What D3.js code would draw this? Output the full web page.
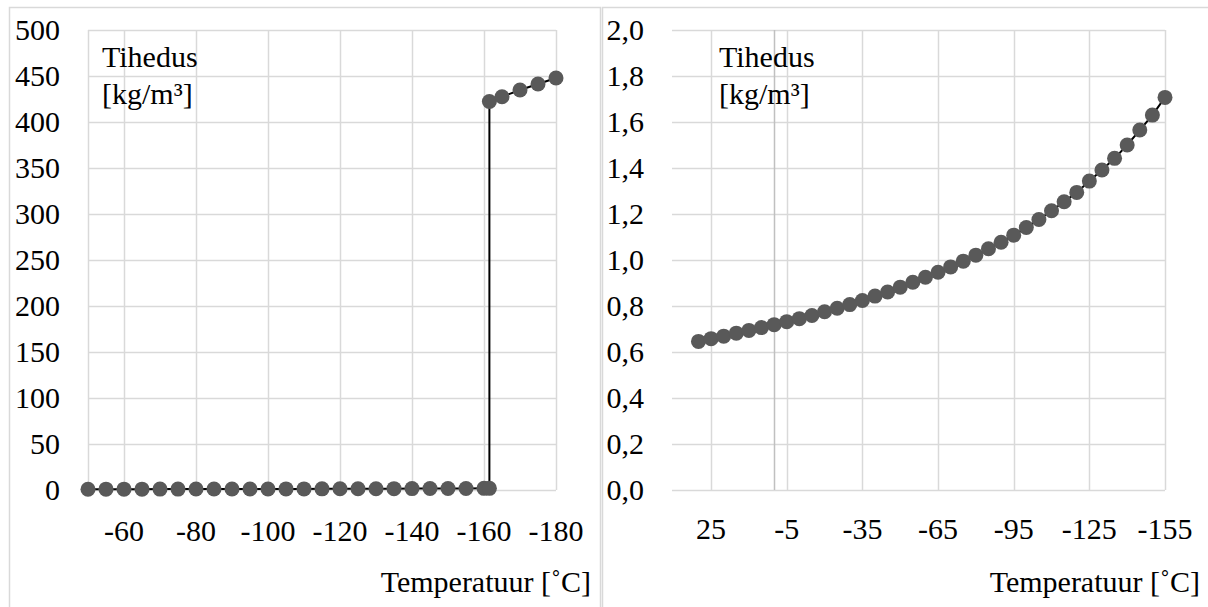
<!DOCTYPE html>
<html>
<head>
<meta charset="utf-8">
<script src="https://cdn.jsdelivr.net/npm/d3@7"></script>
<style>
  html, body { margin: 0; padding: 0; background: #fff; }
</style>
</head>
<body>
<svg id="chart" width="1208" height="607"></svg>
<script>
// ---- Left panel data (gas + liquid methane) ----
const leftTemps = [-50, -55, -60, -65, -70, -75, -80, -85, -90, -95, -100, -105, -110, -115,
  -120, -125, -130, -135, -140, -145, -150, -155, -160, -161.5, -161.5, -165, -170, -175, -180];
const leftDensity = [0.883, 0.903, 0.925, 0.947, 0.970, 0.995, 1.021, 1.049, 1.077, 1.108,
  1.141, 1.176, 1.214, 1.253, 1.294, 1.343, 1.391, 1.442, 1.500, 1.565, 1.630, 1.707, 1.79, 1.82,
  422.3, 427.5, 434.8, 441.3, 447.8];
const leftYTicks = [0, 50, 100, 150, 200, 250, 300, 350, 400, 450, 500];
const leftXTicks = [-60, -80, -100, -120, -140, -160, -180];

// ---- Right panel data (gas methane) ----
const rightTemps = [30, 25, 20, 15, 10, 5, 0, -5, -10, -15, -20, -25, -30, -35, -40, -45, -50,
  -55, -60, -65, -70, -75, -80, -85, -90, -95, -100, -105, -110, -115, -120, -125, -130, -135,
  -140, -145, -150, -155];
const rightDensity = [0.646, 0.658, 0.669, 0.682, 0.694, 0.706, 0.719, 0.732, 0.745, 0.759,
  0.775, 0.790, 0.806, 0.824, 0.843, 0.861, 0.882, 0.903, 0.925, 0.947, 0.970, 0.995, 1.021,
  1.049, 1.077, 1.108, 1.141, 1.176, 1.214, 1.253, 1.294, 1.343, 1.391, 1.442, 1.500, 1.565,
  1.630, 1.707];
const rightYTicks = [0, 0.2, 0.4, 0.6, 0.8, 1.0, 1.2, 1.4, 1.6, 1.8, 2.0];
const rightXTicks = [25, -5, -35, -65, -95, -125, -155];

const yTitle1 = "Tihedus";
const yTitle2 = "[kg/m³]";
const xTitle = "Temperatuur [˚C]";

const svg = d3.select("#chart");
const GRID = "#d9d9d9";
const MARK = "#595959";
const FS = 30;
const FONT = "'Times New Roman', Tinos, 'Liberation Serif', 'Noto Serif', 'Nimbus Roman', 'FreeSerif', 'DejaVu Serif', Times, serif";

svg.append("rect").attr("x", 9.5).attr("y", 7.5).attr("width", 591).attr("height", 620)
  .attr("fill", "none").attr("stroke", GRID).attr("stroke-width", 1.5);
svg.append("rect").attr("x", 602.5).attr("y", 7.5).attr("width", 620).attr("height", 620)
  .attr("fill", "none").attr("stroke", GRID).attr("stroke-width", 1.5);

function txt(g) {
  return g.append("text").style("font-family", FONT).attr("font-size", FS).attr("fill", "#000");
}

function panel(opts) {
  const g = svg.append("g");
  const x = opts.x, y = opts.y;
  const [x0, x1] = x.range();
  const [yb, yt] = y.range();

  g.selectAll(".hg").data(opts.yTicks).join("line")
    .attr("x1", x0).attr("x2", x1)
    .attr("y1", d => Math.round(y(d)) + 0.5).attr("y2", d => Math.round(y(d)) + 0.5)
    .attr("stroke", GRID).attr("stroke-width", 1.5);
  g.selectAll(".vg").data(opts.xGrid).join("line")
    .attr("x1", d => Math.round(x(d)) + 0.5).attr("x2", d => Math.round(x(d)) + 0.5)
    .attr("y1", yt).attr("y2", yb)
    .attr("stroke", GRID).attr("stroke-width", 1.5);
  if (opts.zeroLine !== undefined) {
    g.append("line")
      .attr("x1", Math.round(x(opts.zeroLine)) + 0.5).attr("x2", Math.round(x(opts.zeroLine)) + 0.5)
      .attr("y1", yt).attr("y2", yb)
      .attr("stroke", "#c0c0c0").attr("stroke-width", 1.5);
  }

  g.selectAll(".yl").data(opts.yTicks).join("text")
    .style("font-family", FONT).attr("font-size", FS)
    .attr("x", opts.yLabelX).attr("y", d => y(d)).attr("dy", "0.33em")
    .attr("text-anchor", "end")
    .text(opts.yFmt);
  g.selectAll(".xl").data(opts.xTicks).join("text")
    .style("font-family", FONT).attr("font-size", FS)
    .attr("x", d => x(d)).attr("y", opts.xLabelY)
    .attr("text-anchor", "middle")
    .text(d => String(d));

  txt(g).attr("x", opts.titleX).attr("y", 67).text(yTitle1);
  txt(g).attr("x", opts.titleX).attr("y", 104).text(yTitle2);
  txt(g).attr("x", opts.xTitleX).attr("y", 592).attr("text-anchor", "end").text(xTitle);

  const pts = opts.temps.map((t, i) => [t, opts.vals[i]]);
  const line = d3.line().x(d => x(d[0])).y(d => y(d[1]));
  g.append("path").attr("d", line(pts)).attr("fill", "none")
    .attr("stroke", "#000").attr("stroke-width", 2);
  g.selectAll(".pt").data(pts).join("circle")
    .attr("cx", d => x(d[0])).attr("cy", d => y(d[1])).attr("r", 7.5)
    .attr("fill", MARK);
}

panel({
  x: d3.scaleLinear().domain([-50, -180]).range([88, 556]),
  y: d3.scaleLinear().domain([0, 500]).range([490, 30]),
  yTicks: leftYTicks,
  xTicks: leftXTicks,
  xGrid: [-50].concat(leftXTicks),
  yFmt: d => String(d),
  yLabelX: 60,
  xLabelY: 541,
  titleX: 102,
  xTitleX: 591,
  temps: leftTemps,
  vals: leftDensity
});

panel({
  x: d3.scaleLinear().domain([40.5, -155]).range([672, 1165]),
  y: d3.scaleLinear().domain([0, 2]).range([490, 30]),
  yTicks: rightYTicks,
  xTicks: rightXTicks,
  xGrid: rightXTicks,
  zeroLine: 0,
  yFmt: d => d3.format(".1f")(d).replace(".", ","),
  yLabelX: 644,
  xLabelY: 539,
  titleX: 719,
  xTitleX: 1200,
  temps: rightTemps,
  vals: rightDensity
});
</script>
</body>
</html>
